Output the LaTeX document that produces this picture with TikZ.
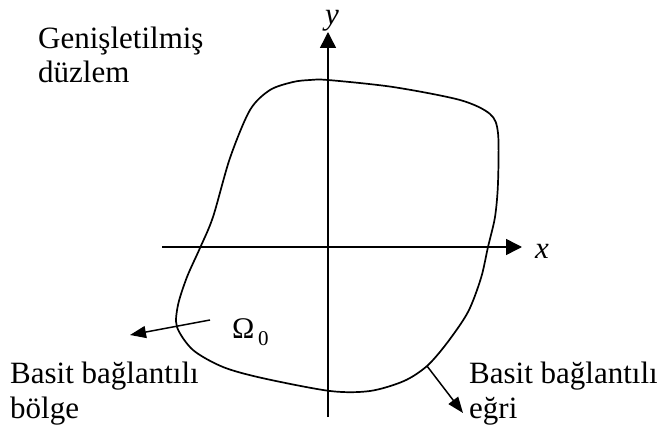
\documentclass[tikz,border=0pt]{standalone}
\usepackage{fontspec}
\setmainfont{Liberation Serif}
\usetikzlibrary{arrows.meta}
\tikzset{
  lbl/.style={font=\fontsize{31}{35}\selectfont, inner sep=0pt, align=left, anchor=base west},
  axis/.style={line width=1.5pt, -{Triangle[length=16pt,width=16pt]}},
  ptr/.style={line width=1.5pt, -{Triangle[length=16pt,width=12pt]}},
  bdry/.style={line width=1.7pt}
}
\begin{document}
\begin{tikzpicture}[x=1pt,y=-1pt]
\useasboundingbox (0,0) rectangle (665,428);
% axes
\coordinate (xs) at (162,247);
\coordinate (xe) at (522,247);
\coordinate (ys) at (328,417);
\coordinate (ye) at (328,32);
\draw[axis] (xs) -- (xe);
\draw[axis] (ys) -- (ye);
\node[lbl, font=\fontsize{31}{35}\selectfont\itshape] (xl) at (535,258) {x};
\node[lbl, font=\fontsize{31}{35}\selectfont\itshape] (yl) at (325,25) {y};
% boundary curve
\draw[bdry] plot[smooth cycle, tension=0.5] coordinates {
 (328,80) (393,87) (460,100) (490,114) (498,133) (498,183) (495,217)
 (488,247) (481,278) (468,312) (447,343) (427,366) (404,381) (370,391)
 (330,391) (262,378) (223,367) (193,350) (177,327) (178,305) (187,277)
 (200,248) (213,217) (230,158) (250,110) (270,90) (293,82) (310,80)};
% region label
\node[inner sep=0pt, anchor=base west, font=\fontsize{30}{33}\selectfont] (om) at (232,338) {Ω};
\node[inner sep=0pt, anchor=base west, font=\fontsize{21}{24}\selectfont] (om0) at (258,345) {0};
% pointers
\coordinate (ra) at (210,320);
\coordinate (rb) at (130,335);
\draw[ptr] (ra) -- (rb);
\coordinate (ca) at (427,366);
\coordinate (cb) at (463,413);
\draw[ptr] (ca) -- (cb);
% texts (anchor at baseline of last line)
\node[lbl] (gen) at (38,83) {Genişletilmiş\\düzlem};
\node[lbl] (bolge) at (10,418) {Basit bağlantılı\\bölge};
\node[lbl] (egri) at (469,418) {Basit bağlantılı\\eğri};
\end{tikzpicture}
\end{document}
